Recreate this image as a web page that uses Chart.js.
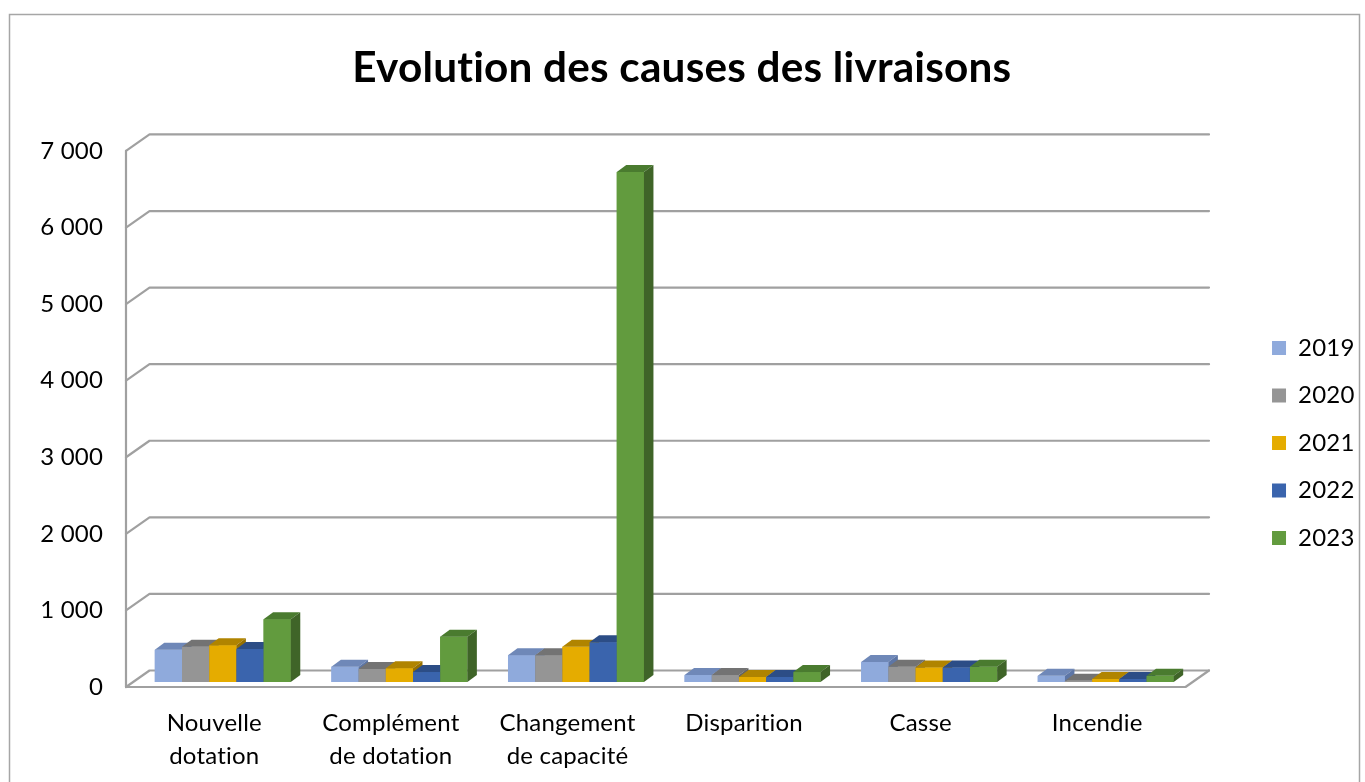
<!DOCTYPE html>
<html lang="fr">
<head>
<meta charset="utf-8">
<title>Evolution des causes des livraisons</title>
<script src="https://cdn.jsdelivr.net/npm/chart.js@4.4.1/dist/chart.umd.min.js"></script>
<style>
    html, body { margin: 0; padding: 0; background: #fff; }
    #wrap { width: 1365px; height: 782px; }
</style>
</head>
<body>
<div id="wrap"><canvas id="chartCauses" width="1365" height="782"></canvas></div>
<script>
// Données
const categories = [['Nouvelle', 'dotation'], ['Complément', 'de dotation'], ['Changement', 'de capacité'], 'Disparition', 'Casse', 'Incendie'];
const years = ['2019', '2020', '2021', '2022', '2023'];
const values2019 = [420, 200, 350, 90, 260, 80];
const values2020 = [460, 170, 350, 90, 200, 15];
const values2021 = [480, 180, 460, 65, 190, 40];
const values2022 = [430, 130, 520, 65, 190, 40];
const values2023 = [820, 590, 6660, 130, 200, 80];
const yTicks = [0, 1000, 2000, 3000, 4000, 5000, 6000, 7000];

// Couleurs (face avant, dessus, côté)
const frontColors = ['#8FAADC', '#959595', '#E5AC00', '#3A64AD', '#629B3E'];
const topColors = ['#6F88B8', '#737373', '#B08400', '#2C4D86', '#4A7B2F'];
const sideColors = ['#5D76A6', '#636363', '#967000', '#24406F', '#3F6428'];

// Effet 3D
const WALL_DX = 23.5, WALL_DY = -16.5;
const BAR_SHIFT_X = 8.5, BAR_SHIFT_Y = -5;
const BAR_DX = 9.5, BAR_DY = -7;
const GRID_COLOR = '#a0a0a0';

const FONT = 'Lato';

function formatThousands(v) {
    return String(v).replace(/\B(?=(\d{3})+(?!\d))/g, ' ');
}

const seriesValues = [values2019, values2020, values2021, values2022, values2023];

const datasets = years.map((year, i) => ({
    label: year,
    data: seriesValues[i],
    backgroundColor: frontColors[i],
    borderWidth: 0,
    categoryPercentage: 0.77,
    barPercentage: 1.0
}));

function drawFaces(ctx, el, i) {
    const {x, y, base, width} = el.getProps(['x', 'y', 'base', 'width'], true);
    const l = x - width / 2, r = x + width / 2;
    // dessus
    ctx.fillStyle = topColors[i];
    ctx.beginPath();
    ctx.moveTo(l, y);
    ctx.lineTo(l + BAR_DX, y + BAR_DY);
    ctx.lineTo(r + BAR_DX, y + BAR_DY);
    ctx.lineTo(r, y);
    ctx.closePath();
    ctx.fill();
    // côté
    ctx.fillStyle = sideColors[i];
    ctx.beginPath();
    ctx.moveTo(r, y);
    ctx.lineTo(r + BAR_DX, y + BAR_DY);
    ctx.lineTo(r + BAR_DX, base + BAR_DY);
    ctx.lineTo(r, base);
    ctx.closePath();
    ctx.fill();
}

const frame3d = {
    id: 'frame3d',
    beforeDraw(chart) {
        const ctx = chart.ctx;
        ctx.save();
        ctx.fillStyle = '#fff';
        ctx.fillRect(0, 0, chart.width, chart.height);
        ctx.strokeStyle = '#a6a6a6';
        ctx.lineWidth = 1.5;
        ctx.strokeRect(9.5, 14.5, 1350, 800);
        ctx.restore();
        // pas de ligatures "ti" de Lato
        ctx.letterSpacing = '0.2px';
    },
    beforeDatasetsDraw(chart) {
        const ctx = chart.ctx;
        const yScale = chart.scales.y;
        const {left, right} = chart.chartArea;
        const y0 = yScale.getPixelForValue(0);
        const yTop = yScale.getPixelForValue(yTicks[yTicks.length - 1]);
        ctx.save();
        ctx.strokeStyle = GRID_COLOR;
        ctx.lineWidth = 2.2;
        ctx.lineCap = 'round';
        ctx.lineJoin = 'round';
        yTicks.forEach(v => {
            const py = yScale.getPixelForValue(v);
            ctx.beginPath();
            ctx.moveTo(left, py);
            ctx.lineTo(left + WALL_DX, py + WALL_DY);
            ctx.lineTo(right + WALL_DX, py + WALL_DY);
            ctx.stroke();
        });
        // mur gauche + sol
        ctx.beginPath();
        ctx.moveTo(left, yTop);
        ctx.lineTo(left, y0);
        ctx.lineTo(right, y0);
        ctx.lineTo(right + WALL_DX, y0 + WALL_DY);
        ctx.stroke();
        ctx.restore();

        ctx.save();
        ctx.translate(BAR_SHIFT_X, BAR_SHIFT_Y);
    },
    afterDatasetsDraw(chart) {
        const ctx = chart.ctx;
        // redessine de gauche à droite pour l'ordre des faces
        chart.data.datasets.forEach((ds, i) => {
            const meta = chart.getDatasetMeta(i);
            meta.data.forEach(el => {
                el.draw(ctx);
                drawFaces(ctx, el, i);
            });
        });
        ctx.restore();
    }
};

new Chart(document.getElementById('chartCauses'), {
    type: 'bar',
    data: {
        labels: categories,
        datasets: datasets
    },
    options: {
        responsive: false,
        animation: false,
        devicePixelRatio: 1,
        events: [],
        layout: { padding: { left: 0, right: 1.3, top: 0, bottom: 0 } },
        plugins: {
            tooltip: { enabled: false },
            title: {
                display: true,
                text: 'Evolution des causes des livraisons',
                color: '#000',
                font: { family: FONT, weight: 'bold', size: 42.3, lineHeight: 1.2 },
                padding: { top: 42.6, bottom: 57.6 }
            },
            legend: {
                position: 'right',
                align: 'center',
                fullSize: false,
                title: { display: true, text: '', font: { size: 12, lineHeight: 1.2 }, padding: { top: 33.6, bottom: 0 } },
                labels: {
                    boxWidth: 14,
                    boxHeight: 14,
                    padding: 23.5,
                    color: '#000',
                    font: { family: FONT, size: 24 }
                }
            }
        },
        scales: {
            x: {
                grid: { display: false },
                border: { display: false },
                ticks: {
                    color: '#000',
                    font: { family: FONT, size: 24, lineHeight: 1.375 },
                    padding: 12,
                    maxRotation: 0,
                    autoSkip: false
                },
                afterFit(scale) { scale.height = 95; }
            },
            y: {
                min: 0,
                max: 7000,
                grid: { display: false },
                border: { display: false },
                afterBuildTicks(scale) { scale.ticks = yTicks.map(v => ({ value: v })); },
                ticks: {
                    color: '#000',
                    font: { family: FONT, size: 24 },
                    padding: 15,
                    callback: v => formatThousands(v)
                },
                afterFit(scale) { scale.width = 126; }
            },
            spacer: {
                type: 'linear',
                position: 'right',
                display: true,
                grid: { display: false },
                border: { display: false },
                ticks: { display: false },
                afterFit(scale) { scale.width = 63; }
            }
        }
    },
    plugins: [frame3d]
});
</script>
</body>
</html>
